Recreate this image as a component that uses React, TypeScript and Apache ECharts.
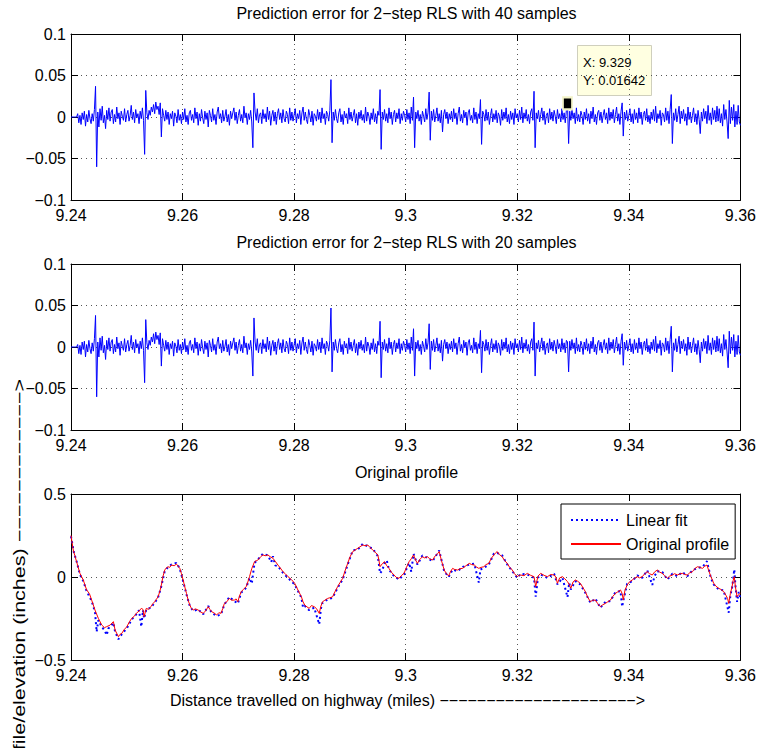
import React, { useEffect, useRef } from "react";
import * as echarts from "echarts";

const FONT = '"Liberation Sans", Arial, Helvetica, sans-serif';

// ---- axes ----
const distanceMin = 9.24;
const distanceMax = 9.36;
const distanceInterval = 0.02;
const errorMin = -0.1;
const errorMax = 0.1;
const errorInterval = 0.05;
const profileMin = -0.5;
const profileMax = 0.5;
const profileInterval = 0.5;

// ---- texts ----
const titleTop = "Prediction error for 2\u2212step RLS with 40 samples";
const titleMiddle = "Prediction error for 2\u2212step RLS with 20 samples";
const titleBottom = "Original profile";
const xAxisName =
  "Distance travelled on highway (miles) \u2212\u2212\u2212\u2212\u2212\u2212\u2212\u2212\u2212\u2212\u2212\u2212\u2212\u2212\u2212\u2212\u2212\u2212\u2212\u2212\u2212>";
const yAxisName =
  "Road profile/elevation (inches) \u2212\u2212\u2212\u2212\u2212\u2212\u2212\u2212\u2212\u2212\u2212\u2212>";
const legendNames = ["Linear fit", "Original profile"];

// ---- datatip ----
const datatipX = 9.329;
const datatipY = 0.01642;

// ---- prediction error samples (first at 9.24, one every 0.0002 mile), in thousandths ----
const errorSampleStep = 0.0002;
const errors40Milli = [
  0, 0, 0, 0, 0, 0, 4, -7, 2, -9, 5, -3, 7, -11, 3, -6, 8, -2, -8, 4,
  -5, 9, 37, -60, 6, -12, 10, -4, 13, -7, 2, -14, 8, -3, 11, -5, 6, 9, -8, 3,
  -6, 12, -2, 5, -9, 7, 1, -4, 10, -6, 3, 8, -5, 2, 14, -3, 6, -7, 9, -1,
  4, -8, 7, -2, 11, -4, -45, 32, 5, -3, 8, 2, 12, 6, 15, 4, 18, 9, 13, 3,
  17, -24, 10, 2, -5, 8, -3, 6, -9, 4, -2, 7, -11, 5, 1, -7, 9, -4, 3, -8,
  6, -3, 10, -6, 2, -9, 5, 8, -4, 3, -7, 11, -2, 6, -10, 4, -5, 9, -1, -8,
  7, -3, 5, -12, 8, 2, -6, 10, -4, 3, -9, 6, 12, -2, 4, -7, 8, -5, 1, 9,
  -6, 3, -10, 7, -2, 5, 11, -4, 6, -8, 2, 9, -5, 3, -7, 13, -1, 5, -9, 4,
  -3, 8, -6, -37, 29, 6, -4, 10, -7, 3, 5, -8, 9, -2, 4, -6, 12, -3, 7, -10,
  2, 8, -5, 6, -9, 4, 10, -3, 5, -7, 9, -2, -6, 7, 3, -8, 11, -4, 6, -5,
  3, 10, -7, 4, -2, 8, -9, 5, 12, -4, 6, -3, -8, 9, 2, -6, 7, -10, 4, 1,
  -5, 9, -3, 6, -7, 11, -2, 4, -9, 7, 3, -5, 8, 45, -31, 6, -4, 9, -2, -7,
  5, 10, -6, 3, -9, 7, -1, 4, -8, 11, -3, 6, -5, 2, 9, -7, 4, -10, 6, -2,
  8, -4, 3, -7, 12, -5, 6, 1, -9, 5, -3, 10, -6, 4, -8, 7, 2, 33, -39, 6,
  -3, 9, -5, 4, -7, 11, -2, 6, -9, 3, 8, -6, 5, -2, 10, -8, 4, -4, 7, 2,
  -6, 9, -3, 5, -8, 12, -4, 24, -37, 6, -2, 8, -5, 3, -9, 7, 1, -6, 10, -3,
  5, 30, -28, 7, -4, 9, -6, 2, 11, -5, 4, -7, 8, -18, 3, 9, -2, 6, -8, 4,
  -3, 7, -6, 10, -2, 5, -9, 4, 12, -5, 3, -7, 8, -1, 6, -10, 5, 9, -4, 2,
  -7, 11, -3, 6, -8, 4, -2, 21, -33, 7, 3, -5, 9, -4, 6, -9, 2, 10, -6, 4,
  -3, 8, -7, 5, 1, -10, 9, -4, 6, -2, 11, -6, 3, -8, 7, -3, 5, -9, 10, -1,
  4, -6, 8, -3, 12, -7, 5, -2, 9, -5, 3, -8, 6, 10, -4, 31, -37, 5, -2, 8,
  -6, 3, 11, -4, 7, -9, 2, 5, -7, 10, -3, 6, -5, 8, 1, -8, 9, -2, 4, -6,
  10, -3, 5, -7, 8, 16, -32, 7, -4, 9, -2, 5, -8, 11, -5, 3, -6, 7, 2, -9,
  6, -3, 10, -5, 4, -8, 7, -2, 12, -6, 3, -9, 5, 8, -4, 6, -7, 2, 9, -3,
  5, -8, 11, -4, 6, -2, 9, -7, 3, 12, -5, 4, -9, 7, 17, -23, 6, -3, 8, -5,
  2, 10, -6, 4, -8, 9, -3, 5, -7, 11, -2, 6, -9, 3, 7, -4, 10, -6, 2, -8,
  6, -3, 9, -5, 13, -7, 4, -2, 8, -10, 5, 3, -6, 11, -4, 7, -8, 9, 27, -32,
  5, -4, 10, -6, 3, 13, -8, 7, -2, 9, -5, 4, -10, 12, -3, 6, -7, 2, 11, -6,
  4, -9, 8, -3, -20, 6, -5, 10, -2, 7, -8, 14, -4, 5, -9, 11, -3, 8, -6, 13,
  -5, 10, -7, 4, -11, 15, -3, 9, -6, -26, 20, -8, 12, -4, 15, -12, 7, -9, 14, -6,
  -10,
];
const errors20Milli = [
  0, 0, 0, 0, 0, 0, 3, -8, 2, -9, 6, -3, 7, -12, 3, -6, 8, -2, -8, 5,
  -5, 10, 38, -60, 6, -12, 11, -4, 13, -7, 2, -15, 8, -3, 11, -5, 6, 9, -8, 3,
  -6, 12, -2, 5, -10, 7, 1, -4, 10, -6, 3, 8, -5, 2, 14, -3, 6, -7, 9, -1,
  4, -8, 7, -2, 11, -4, -43, 33, 5, -3, 8, 2, 12, 6, 16, 4, 18, 9, 14, 3,
  17, -23, 10, 2, -5, 8, -3, 6, -9, 4, -2, 7, -11, 5, 1, -7, 9, -4, 3, -8,
  6, -3, 10, -6, 2, -9, 5, 8, -4, 3, -7, 11, -2, 6, -10, 4, -5, 9, -1, -8,
  7, -3, 5, -12, 8, 2, -6, 10, -4, 3, -9, 6, 12, -2, 4, -7, 8, -5, 1, 9,
  -6, 3, -10, 7, -2, 5, 11, -4, 6, -8, 2, 9, -5, 3, -7, 13, -1, 5, -9, 4,
  -3, 8, -6, -35, 35, 6, -4, 10, -7, 3, 5, -8, 9, -2, 4, -6, 12, -3, 7, -10,
  2, 8, -5, 6, -9, 4, 10, -3, 5, -7, 9, -2, -6, 7, 3, -8, 11, -4, 6, -5,
  3, 10, -7, 4, -2, 8, -9, 5, 12, -4, 6, -3, -8, 9, 2, -6, 7, -10, 4, 1,
  -5, 9, -3, 6, -7, 11, -2, 4, -9, 7, 3, -5, 8, 47, -30, 6, -4, 9, -2, -7,
  5, 10, -6, 3, -9, 7, -1, 4, -8, 11, -3, 6, -5, 2, 9, -7, 4, -10, 6, -2,
  8, -4, 3, -7, 12, -5, 6, 1, -9, 5, -3, 10, -6, 4, -8, 7, 2, 31, -37, 6,
  -3, 9, -5, 4, -7, 11, -2, 6, -9, 3, 8, -6, 5, -2, 10, -8, 4, -4, 7, 2,
  -6, 9, -3, 5, -8, 12, -4, 22, -35, 6, -2, 8, -5, 3, -9, 7, 1, -6, 10, -3,
  5, 28, -27, 7, -4, 9, -6, 2, 11, -5, 4, -7, 8, -17, 3, 9, -2, 6, -8, 4,
  -3, 7, -6, 10, -2, 5, -9, 4, 12, -5, 3, -7, 8, -1, 6, -10, 5, 9, -4, 2,
  -7, 11, -3, 6, -8, 4, -2, 20, -31, 7, 3, -5, 9, -4, 6, -9, 2, 10, -6, 4,
  -3, 8, -7, 5, 1, -10, 9, -4, 6, -2, 11, -6, 3, -8, 7, -3, 5, -9, 10, -1,
  4, -6, 8, -3, 12, -7, 5, -2, 9, -5, 3, -8, 6, 10, -4, 30, -35, 5, -2, 8,
  -6, 3, 11, -4, 7, -9, 2, 5, -7, 10, -3, 6, -5, 8, 1, -8, 9, -2, 4, -6,
  10, -3, 5, -7, 8, 6, -30, 7, -4, 9, -2, 5, -8, 11, -5, 3, -6, 7, 2, -9,
  6, -3, 10, -5, 4, -8, 7, -2, 12, -6, 3, -9, 5, 8, -4, 6, -7, 2, 9, -3,
  5, -8, 11, -4, 6, -2, 9, -7, 3, 12, -5, 4, -9, 7, 16, -22, 6, -3, 8, -5,
  2, 10, -6, 4, -8, 9, -3, 5, -7, 11, -2, 6, -9, 3, 7, -4, 10, -6, 2, -8,
  6, -3, 9, -5, 13, -7, 4, -2, 8, -10, 5, 3, -6, 11, -4, 7, -8, 9, 25, -30,
  5, -4, 10, -6, 3, 13, -8, 7, -2, 9, -5, 4, -10, 12, -3, 6, -7, 2, 11, -6,
  4, -9, 8, -3, -19, 6, -5, 10, -2, 7, -8, 14, -4, 5, -9, 11, -3, 8, -6, 13,
  -5, 10, -7, 4, -11, 15, -3, 9, -6, -25, 19, -8, 12, -4, 15, -12, 7, -9, 14, -6,
  -10,
];

// ---- road profile [distance (miles), elevation (inches)] ----
const originalProfile: [number, number][] = [
  [9.2400, 0.250], [9.2404, 0.163], [9.2410, 0.092], [9.2416, 0.022], [9.2422, -0.018], [9.2428, -0.078],
  [9.2433, -0.100], [9.2437, -0.139], [9.2443, -0.199], [9.2449, -0.249], [9.2455, -0.289], [9.2460, -0.305],
  [9.2464, -0.299], [9.2470, -0.290], [9.2476, -0.269], [9.2479, -0.319], [9.2485, -0.360], [9.2488, -0.345],
  [9.2491, -0.340], [9.2495, -0.318], [9.2500, -0.300], [9.2505, -0.268], [9.2509, -0.249], [9.2513, -0.238],
  [9.2517, -0.219], [9.2522, -0.205], [9.2526, -0.189], [9.2529, -0.195], [9.2531, -0.239], [9.2535, -0.189],
  [9.2539, -0.195], [9.2543, -0.179], [9.2547, -0.160], [9.2550, -0.149], [9.2553, -0.135], [9.2556, -0.119],
  [9.2559, -0.090], [9.2562, -0.048], [9.2565, 0.005], [9.2568, 0.042], [9.2571, 0.055], [9.2574, 0.062],
  [9.2577, 0.058], [9.2580, 0.072], [9.2585, 0.068], [9.2589, 0.078], [9.2592, 0.065], [9.2595, 0.052],
  [9.2598, 0.020], [9.2601, -0.018], [9.2604, -0.060], [9.2607, -0.098], [9.2610, -0.140], [9.2613, -0.169],
  [9.2616, -0.190], [9.2619, -0.199], [9.2623, -0.192], [9.2628, -0.199], [9.2632, -0.210], [9.2637, -0.219],
  [9.2641, -0.205], [9.2646, -0.179], [9.2649, -0.195], [9.2652, -0.209], [9.2656, -0.215], [9.2661, -0.229],
  [9.2665, -0.215], [9.2669, -0.219], [9.2672, -0.190], [9.2675, -0.159], [9.2679, -0.150], [9.2684, -0.129],
  [9.2688, -0.140], [9.2693, -0.139], [9.2696, -0.132], [9.2699, -0.149], [9.2702, -0.115], [9.2705, -0.089],
  [9.2709, -0.075], [9.2714, -0.058], [9.2717, -0.030], [9.2720, 0.002], [9.2724, 0.050], [9.2729, 0.092],
  [9.2732, 0.098], [9.2735, 0.102], [9.2740, 0.122], [9.2744, 0.133], [9.2748, 0.128], [9.2753, 0.133],
  [9.2757, 0.122], [9.2762, 0.113], [9.2766, 0.095], [9.2771, 0.072], [9.2775, 0.055], [9.2780, 0.032],
  [9.2784, 0.020], [9.2789, 0.002], [9.2795, -0.015], [9.2801, -0.038], [9.2807, -0.080], [9.2813, -0.119],
  [9.2816, -0.150], [9.2819, -0.169], [9.2823, -0.180], [9.2827, -0.189], [9.2831, -0.172], [9.2836, -0.179],
  [9.2840, -0.190], [9.2845, -0.219], [9.2848, -0.175], [9.2851, -0.149], [9.2855, -0.140], [9.2860, -0.129],
  [9.2864, -0.125], [9.2869, -0.119], [9.2873, -0.090], [9.2878, -0.058], [9.2882, -0.035], [9.2887, -0.008],
  [9.2891, 0.035], [9.2896, 0.082], [9.2900, 0.120], [9.2905, 0.153], [9.2909, 0.162], [9.2914, 0.173],
  [9.2918, 0.182], [9.2923, 0.193], [9.2927, 0.188], [9.2932, 0.193], [9.2936, 0.178], [9.2941, 0.163],
  [9.2945, 0.150], [9.2950, 0.133], [9.2952, 0.100], [9.2954, 0.062], [9.2958, 0.080], [9.2962, 0.092],
  [9.2966, 0.068], [9.2970, 0.052], [9.2974, 0.030], [9.2979, 0.012], [9.2983, -0.002], [9.2988, -0.008],
  [9.2992, 0.008], [9.2997, 0.022], [9.3001, 0.055], [9.3006, 0.092], [9.3010, 0.110], [9.3014, 0.133],
  [9.3018, 0.100], [9.3021, 0.082], [9.3025, 0.105], [9.3030, 0.122], [9.3034, 0.115], [9.3039, 0.122],
  [9.3043, 0.110], [9.3048, 0.102], [9.3053, 0.128], [9.3057, 0.140], [9.3060, 0.153], [9.3064, 0.100],
  [9.3069, 0.042], [9.3073, 0.020], [9.3077, 0.006], [9.3080, 0.030], [9.3084, 0.052], [9.3088, 0.045],
  [9.3093, 0.042], [9.3097, 0.050], [9.3102, 0.052], [9.3108, 0.068], [9.3114, 0.082], [9.3118, 0.075],
  [9.3123, 0.072], [9.3127, 0.060], [9.3131, 0.052], [9.3135, 0.058], [9.3140, 0.062], [9.3144, 0.075],
  [9.3149, 0.082], [9.3153, 0.110], [9.3158, 0.133], [9.3161, 0.145], [9.3164, 0.153], [9.3168, 0.135],
  [9.3173, 0.122], [9.3177, 0.100], [9.3182, 0.082], [9.3186, 0.060], [9.3191, 0.042], [9.3195, 0.020],
  [9.3200, 0.002], [9.3203, 0.010], [9.3206, 0.012], [9.3212, 0.008], [9.3218, 0.022], [9.3224, 0.010],
  [9.3230, 0.002], [9.3233, -0.058], [9.3237, 0.005], [9.3242, 0.022], [9.3248, 0.010], [9.3254, 0.002],
  [9.3260, 0.015], [9.3266, 0.012], [9.3269, 0.000], [9.3272, -0.038], [9.3276, -0.005], [9.3281, 0.002],
  [9.3285, -0.010], [9.3290, -0.028], [9.3293, -0.045], [9.3296, -0.068], [9.3300, -0.030], [9.3304, -0.018],
  [9.3308, -0.025], [9.3313, -0.038], [9.3317, -0.060], [9.3322, -0.088], [9.3326, -0.120], [9.3331, -0.149],
  [9.3335, -0.140], [9.3340, -0.139], [9.3344, -0.160], [9.3349, -0.179], [9.3353, -0.168], [9.3358, -0.159],
  [9.3362, -0.150], [9.3367, -0.139], [9.3371, -0.118], [9.3376, -0.098], [9.3380, -0.090], [9.3385, -0.078],
  [9.3388, -0.100], [9.3390, -0.139], [9.3393, -0.080], [9.3397, -0.048], [9.3401, -0.030], [9.3406, -0.018],
  [9.3410, -0.008], [9.3415, 0.002], [9.3419, -0.005], [9.3424, 0.002], [9.3428, 0.018], [9.3433, 0.032],
  [9.3437, 0.020], [9.3442, 0.012], [9.3446, 0.030], [9.3451, 0.042], [9.3455, 0.030], [9.3460, 0.022],
  [9.3464, 0.008], [9.3469, -0.008], [9.3473, 0.005], [9.3478, 0.012], [9.3482, 0.020], [9.3487, 0.012],
  [9.3491, 0.018], [9.3496, 0.022], [9.3500, 0.015], [9.3505, 0.012], [9.3509, 0.025], [9.3514, 0.032],
  [9.3518, 0.050], [9.3523, 0.062], [9.3527, 0.058], [9.3532, 0.052], [9.3536, 0.065], [9.3540, 0.072],
  [9.3543, 0.040], [9.3547, 0.002], [9.3550, -0.020], [9.3552, -0.038], [9.3556, -0.055], [9.3561, -0.068],
  [9.3565, -0.075], [9.3570, -0.088], [9.3574, -0.110], [9.3577, -0.130], [9.3579, -0.159], [9.3582, -0.100],
  [9.3585, -0.058], [9.3587, -0.020], [9.3589, 0.002], [9.3591, -0.060], [9.3594, -0.119], [9.3597, -0.105],
  [9.3600, -0.098],
];

const linearFit: [number, number][] = [
  [9.2400, 0.245], [9.2405, 0.150], [9.2410, 0.095], [9.2416, 0.015], [9.2422, -0.025], [9.2428, -0.085],
  [9.2437, -0.145], [9.2443, -0.210], [9.2446, -0.330], [9.2449, -0.260], [9.2455, -0.300], [9.2460, -0.320],
  [9.2464, -0.350], [9.2467, -0.310], [9.2470, -0.300], [9.2476, -0.275], [9.2479, -0.330], [9.2485, -0.375],
  [9.2491, -0.345], [9.2500, -0.310], [9.2509, -0.255], [9.2517, -0.225], [9.2522, -0.200], [9.2526, -0.300],
  [9.2529, -0.200], [9.2531, -0.250], [9.2535, -0.195], [9.2543, -0.185], [9.2550, -0.155], [9.2556, -0.125],
  [9.2562, -0.055], [9.2568, 0.035], [9.2574, 0.060], [9.2580, 0.075], [9.2589, 0.085], [9.2595, 0.050],
  [9.2601, -0.025], [9.2607, -0.105], [9.2613, -0.175], [9.2619, -0.205], [9.2628, -0.195], [9.2637, -0.225],
  [9.2646, -0.175], [9.2652, -0.215], [9.2661, -0.235], [9.2669, -0.225], [9.2675, -0.165], [9.2684, -0.120],
  [9.2693, -0.145], [9.2699, -0.160], [9.2705, -0.095], [9.2714, -0.065], [9.2720, -0.005], [9.2724, -0.040],
  [9.2729, 0.085], [9.2735, 0.105], [9.2744, 0.140], [9.2753, 0.130], [9.2759, 0.090], [9.2762, 0.125],
  [9.2766, 0.070], [9.2771, 0.065], [9.2780, 0.025], [9.2789, -0.005], [9.2801, -0.045], [9.2813, -0.125],
  [9.2816, -0.185], [9.2819, -0.175], [9.2827, -0.200], [9.2836, -0.185], [9.2845, -0.285], [9.2848, -0.190],
  [9.2851, -0.155], [9.2860, -0.135], [9.2869, -0.125], [9.2878, -0.065], [9.2887, -0.015], [9.2896, 0.075],
  [9.2905, 0.160], [9.2914, 0.165], [9.2923, 0.200], [9.2932, 0.185], [9.2941, 0.170], [9.2950, 0.125],
  [9.2954, 0.022], [9.2958, 0.040], [9.2962, 0.085], [9.2966, 0.100], [9.2970, 0.045], [9.2979, 0.005],
  [9.2988, -0.015], [9.2997, 0.015], [9.3006, 0.085], [9.3010, 0.032], [9.3014, 0.140], [9.3021, 0.075],
  [9.3030, 0.130], [9.3039, 0.115], [9.3048, 0.095], [9.3060, 0.160], [9.3069, 0.035], [9.3077, 0.000],
  [9.3084, 0.045], [9.3093, 0.035], [9.3102, 0.060], [9.3114, 0.075], [9.3123, 0.080], [9.3131, -0.034],
  [9.3134, 0.045], [9.3140, 0.055], [9.3149, 0.075], [9.3158, 0.140], [9.3164, 0.145], [9.3173, 0.130],
  [9.3182, 0.075], [9.3191, 0.035], [9.3200, -0.005], [9.3206, 0.020], [9.3218, 0.015], [9.3230, -0.005],
  [9.3233, -0.119], [9.3237, -0.005], [9.3242, 0.015], [9.3254, -0.005], [9.3266, 0.020], [9.3272, -0.045],
  [9.3281, -0.005], [9.3290, -0.122], [9.3293, -0.035], [9.3296, -0.075], [9.3304, -0.025], [9.3313, -0.045],
  [9.3322, -0.095], [9.3331, -0.155], [9.3340, -0.130], [9.3349, -0.185], [9.3358, -0.150], [9.3367, -0.145],
  [9.3376, -0.090], [9.3385, -0.085], [9.3388, -0.179], [9.3390, -0.145], [9.3397, -0.040], [9.3406, -0.025],
  [9.3415, 0.010], [9.3424, -0.005], [9.3433, 0.040], [9.3442, -0.048], [9.3446, 0.005], [9.3451, 0.035],
  [9.3460, 0.030], [9.3469, -0.015], [9.3478, 0.020], [9.3487, 0.005], [9.3496, 0.030], [9.3505, 0.005],
  [9.3514, 0.040], [9.3523, 0.055], [9.3532, 0.060], [9.3540, 0.095], [9.3547, -0.005], [9.3552, -0.045],
  [9.3561, -0.075], [9.3570, -0.080], [9.3579, -0.215], [9.3582, -0.110], [9.3585, -0.065], [9.3589, 0.045],
  [9.3591, -0.050], [9.3594, -0.150], [9.3597, -0.090], [9.3600, -0.130],
];

// ---------------------------------------------------------------------------

const toErrorSeries = (milli: number[]) =>
  milli.map((v, i) => [+(distanceMin + i * errorSampleStep).toFixed(4), v / 1000]);

const fmt = (v: number, digits: number) => {
  const p = Math.pow(10, digits);
  const r = Math.round(v * p) / p;
  return (r < 0 ? "\u2212" : "") + String(Math.abs(r));
};

const GRID_LEFT = 71;
const GRID_WIDTH = 671;
const grids = [
  { left: GRID_LEFT, top: 34, width: GRID_WIDTH, height: 166 },
  { left: GRID_LEFT, top: 264, width: GRID_WIDTH, height: 166 },
  { left: GRID_LEFT, top: 494, width: GRID_WIDTH, height: 166 },
];

const axisLineStyle = { color: "#000", width: 1 };
const gridLineStyle = { color: "#555", width: 1, type: [1, 4] as number[] };

const makeX = (gridIndex: number, top: boolean) => ({
  type: "value",
  gridIndex,
  position: top ? "top" : "bottom",
  min: distanceMin,
  max: distanceMax,
  interval: distanceInterval,
  axisLine: { show: true, onZero: false, lineStyle: axisLineStyle },
  axisTick: { show: true, inside: true, length: 7, lineStyle: axisLineStyle },
  axisLabel: {
    show: !top,
    color: "#000",
    fontSize: 16,
    fontFamily: FONT,
    margin: 7,
    showMinLabel: true,
    showMaxLabel: true,
    formatter: (v: number) => fmt(v, 2),
  },
  splitLine: { show: !top, lineStyle: gridLineStyle },
});

const makeY = (gridIndex: number, right: boolean, min: number, max: number, interval: number) => ({
  type: "value",
  gridIndex,
  position: right ? "right" : "left",
  min,
  max,
  interval,
  axisLine: { show: true, onZero: false, lineStyle: axisLineStyle },
  axisTick: { show: true, inside: true, length: 7, lineStyle: axisLineStyle },
  axisLabel: {
    show: !right,
    color: "#000",
    fontSize: 16,
    fontFamily: FONT,
    margin: 5,
    showMinLabel: true,
    showMaxLabel: true,
    formatter: (v: number) => fmt(v, 3),
  },
  splitLine: { show: !right, lineStyle: gridLineStyle },
});

const centerX = GRID_LEFT + GRID_WIDTH / 2;

const textEl = (text: string, x: number, y: number, extra: any = {}) => ({
  type: "text",
  x,
  y,
  silent: true,
  style: {
    text,
    fill: "#000",
    fontSize: 16,
    fontFamily: FONT,
    align: "center",
    verticalAlign: "middle",
    ...extra,
  },
});

const option: any = {
  animation: false,
  backgroundColor: "#fff",
  grid: grids,
  xAxis: [makeX(0, false), makeX(0, true), makeX(1, false), makeX(1, true), makeX(2, false), makeX(2, true)],
  yAxis: [
    makeY(0, false, errorMin, errorMax, errorInterval),
    makeY(0, true, errorMin, errorMax, errorInterval),
    makeY(1, false, errorMin, errorMax, errorInterval),
    makeY(1, true, errorMin, errorMax, errorInterval),
    makeY(2, false, profileMin, profileMax, profileInterval),
    makeY(2, true, profileMin, profileMax, profileInterval),
  ],
  legend: {
    orient: "vertical",
    left: 561,
    top: 504,
    padding: [8, 6, 7, 9],
    itemGap: 8,
    itemWidth: 50,
    itemHeight: 16,
    backgroundColor: "#fff",
    borderColor: "#000",
    borderWidth: 1,
    borderRadius: 0,
    selectedMode: false,
    data: legendNames,
    itemStyle: { opacity: 0 },
    textStyle: { color: "#000", fontSize: 16, fontFamily: FONT },
  },
  series: [
    {
      name: "error40",
      type: "line",
      xAxisIndex: 0,
      yAxisIndex: 0,
      data: toErrorSeries(errors40Milli),
      symbol: "none",
      silent: true,
      lineStyle: { color: "#0000ff", width: 1 },
      itemStyle: { color: "#0000ff" },
      markPoint: {
        silent: true,
        symbol: "rect",
        symbolSize: [9, 12],
        itemStyle: { color: "#000", borderColor: "#f3f3c8", borderWidth: 2 },
        label: { show: false },
        data: [{ coord: [datatipX, datatipY] }],
      },
    },
    {
      name: "error20",
      type: "line",
      xAxisIndex: 2,
      yAxisIndex: 2,
      data: toErrorSeries(errors20Milli),
      symbol: "none",
      silent: true,
      lineStyle: { color: "#0000ff", width: 1 },
      itemStyle: { color: "#0000ff" },
    },
    {
      name: legendNames[0],
      type: "line",
      xAxisIndex: 4,
      yAxisIndex: 4,
      data: linearFit,
      symbol: "none",
      silent: true,
      lineStyle: { color: "#0000ff", width: 2, type: [2, 3] },
      itemStyle: { color: "#0000ff" },
    },
    {
      name: legendNames[1],
      type: "line",
      xAxisIndex: 4,
      yAxisIndex: 4,
      data: originalProfile,
      symbol: "none",
      silent: true,
      lineStyle: { color: "#ff0000", width: 1 },
      itemStyle: { color: "#ff0000" },
    },
  ],
  graphic: [
    textEl(titleTop, centerX, 13.5),
    textEl(titleMiddle, centerX, 242.5),
    textEl(titleBottom, centerX, 472),
    textEl(xAxisName, centerX + 1, 700.5),
    {
      type: "text",
      x: 20,
      y: 379,
      rotation: Math.PI / 2,
      scaleX: 1.345,
      silent: true,
      style: {
        text: yAxisName,
        fill: "#000",
        fontSize: 16,
        fontFamily: FONT,
        align: "right",
        verticalAlign: "middle",
      },
    },
    {
      type: "group",
      silent: true,
      children: [
        {
          type: "rect",
          shape: { x: 577.5, y: 45.5, width: 74, height: 50 },
          style: { fill: "#ffffe1", stroke: "#cfcfbd", lineWidth: 1 },
        },
        textEl(`X: ${datatipX}`, 583, 62, { fontSize: 13, align: "left" }),
        textEl(`Y: ${datatipY}`, 583, 80, { fontSize: 13, align: "left" }),
      ],
    },
  ],
};

export default function App() {
  const ref = useRef<HTMLDivElement>(null);
  useEffect(() => {
    if (!ref.current) return;
    const chart = echarts.init(ref.current, null, { renderer: "svg" });
    chart.setOption(option);
    return () => chart.dispose();
  }, []);
  return (
    <div
      ref={ref}
      style={{ position: "fixed", left: 0, top: 0, width: 759, height: 748, background: "#fff" }}
    />
  );
}
